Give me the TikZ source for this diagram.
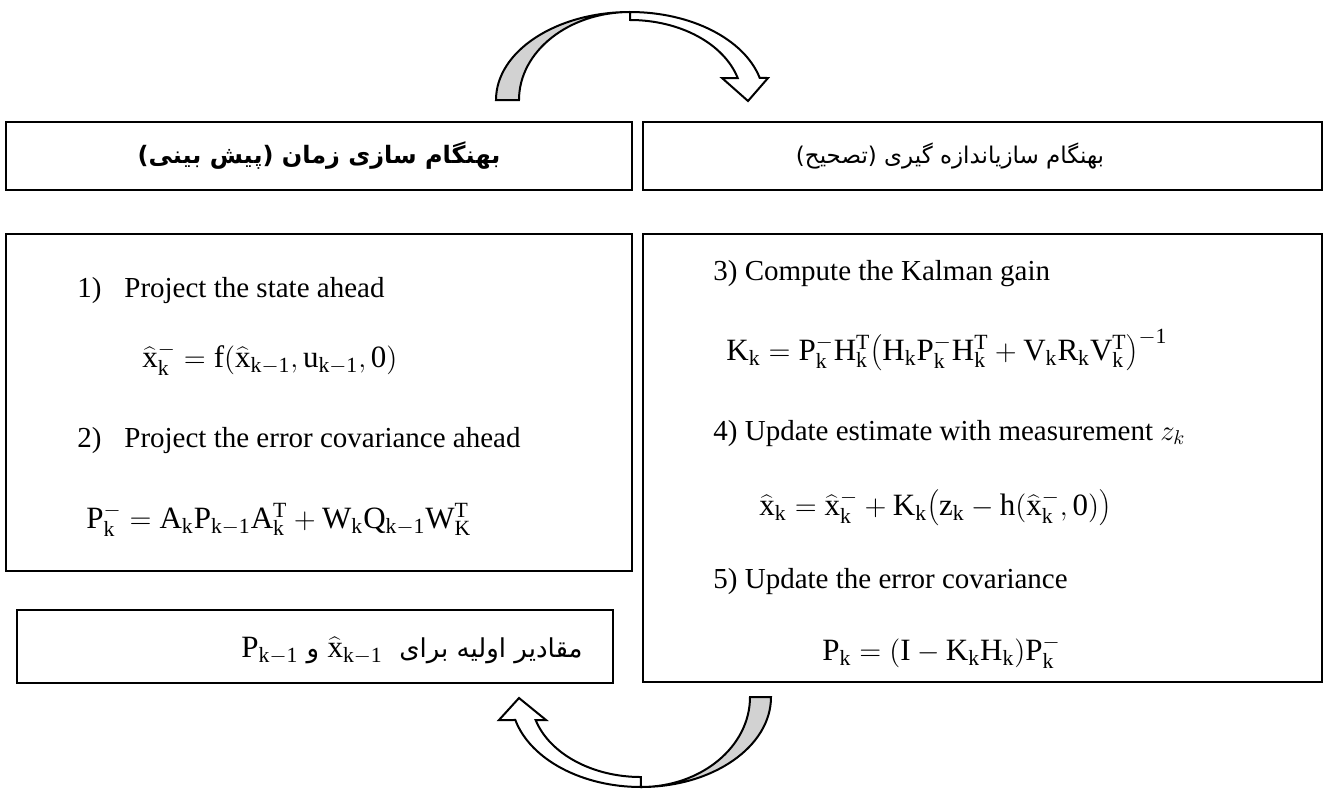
\documentclass[tikz,border=0pt]{standalone}
\usepackage{fontspec}
\setmainfont{Liberation Serif}
\newfontfamily\farsi[Script=Arabic]{DejaVu Sans}
\TeXXeTstate=1
\usetikzlibrary{positioning}
\definecolor{ArrowGray}{RGB}{210,210,210}
\newcommand{\hx}{\widehat{\mathrm{x}}}
\tikzset{
  box/.style={draw=black,line width=1.3pt,inner sep=0pt,outer sep=0pt},
  txt/.style={anchor=base west,inner sep=0pt,font=\fontsize{14.5}{17}\selectfont},
  eq/.style={txt,font=\fontsize{15.5}{18}\selectfont},
  fa/.style={inner sep=0pt,font=\farsi\fontsize{12}{14}\selectfont},
  back/.style={draw=black,line width=1pt,fill=ArrowGray},
  front/.style={draw=black,line width=1pt,fill=white},
}

\begin{document}
\begin{tikzpicture}[x=0.5pt,y=-0.5pt]
\useasboundingbox (0,0) rectangle (1334,788);
\node[box,minimum width=313pt,minimum height=34pt,fa,font=\farsi\bfseries\fontsize{12}{14}\selectfont] (predHead) at (319,156) {\beginR بهنگام سازی زمان (پیش بینی)\endR};
\node[box,minimum width=339.5pt,minimum height=34pt] (corrHead) at (982.5,156) {};
\node[fa,font=\farsi\fontsize{11.5}{14}\selectfont] (corrTitle) at (950,156) {\beginR بهنگام سازیاندازه گیری (تصحیح)\endR};
\node[box,minimum width=313pt,minimum height=168.5pt] (predBox) at (319,402.5) {};
\node[box,minimum width=339.5pt,minimum height=224pt] (corrBox) at (982.5,458) {};
\node[box,minimum width=298pt,minimum height=36.5pt] (initBox) at (315,646.5) {};
\node[txt] (n1) at (77,297) {1)};
\node[txt] (s1) at (124,297) {Project the state ahead};
\node[eq] (f1) at (142,367) {$\mathrm{\hx_k^- = f(\hx_{k-1},u_{k-1},0)}$};
\node[txt] (n2) at (77,447) {2)};
\node[txt] (s2) at (124,447) {Project the error covariance ahead};
\node[eq] (f2) at (86,528) {$\mathrm{P_k^- = A_kP_{k-1}A_k^T + W_kQ_{k-1}W_K^T}$};
\node[txt] (s3) at (713,280) {3) Compute the Kalman gain};
\node[eq] (f3) at (726,360) {$\mathrm{K_k = P_k^-H_k^T{\left(H_kP_k^-H_k^T + V_kR_kV_k^T\right)}^{-1}}$};
\node[txt] (s4) at (713,440) {4) Update estimate with measurement $z_k$};
\node[eq] (f4) at (759,515) {$\mathrm{\hx_k = \hx_k^- + K_k{\left(z_k - h(\hx_k^-,0)\right)}}$};
\node[txt] (s5) at (713,588) {5) Update the error covariance};
\node[eq] (f5) at (822,660) {$\mathrm{P_k = (I - K_kH_k)P_k^-}$};
\node[fa,anchor=base east,font=\farsi\fontsize{13}{15}\selectfont] (initText) at (583,657) {\beginR مقادیر اولیه برای\ \ \mbox{\fontsize{15.5}{18}\selectfont$\mathrm{\hx_{k-1}}$} و \mbox{\fontsize{15.5}{18}\selectfont$\mathrm{P_{k-1}}$}\endR};
\filldraw[back] (496,100) arc[start angle=180,end angle=270,x radius=134,y radius=88] arc[start angle=270,end angle=180,x radius=111,y radius=88] -- cycle;
\filldraw[front] (630,12) arc[start angle=270,end angle=345.5,x radius=134,y radius=88] -- (768,78) -- (748,101) -- (722,78) -- (737.7,78) arc[start angle=344.04,end angle=270,x radius=112,y radius=80] -- cycle;
\filldraw[back] (771,697) arc[start angle=0,end angle=90,x radius=130,y radius=90] arc[start angle=90,end angle=0,x radius=109,y radius=90] -- cycle;
\filldraw[front] (641,787) arc[start angle=90,end angle=165.2,x radius=130,y radius=90] -- (499,720) -- (519,698) -- (546,720) -- (535.6,720) arc[start angle=163.3,end angle=90,x radius=110,y radius=80] -- cycle;
\end{tikzpicture}
\end{document}
